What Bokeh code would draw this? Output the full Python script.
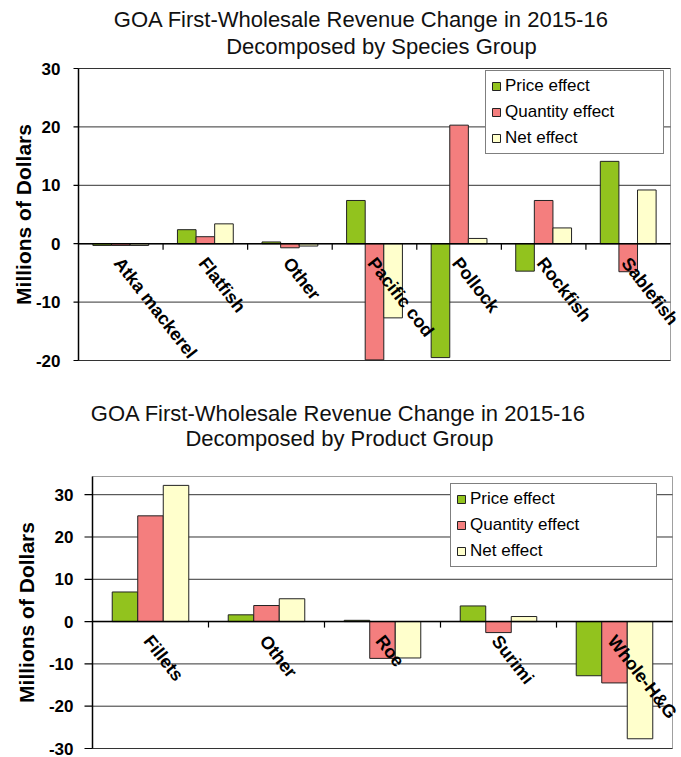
import numpy as np
from bokeh.plotting import figure
from bokeh.models import (ColumnDataSource, LabelSet, Label, Legend, LegendItem)
from bokeh.core.properties import value
from bokeh.embed import file_html
from bokeh.resources import INLINE

# ---------------- data ----------------
species = ["Atka mackerel", "Flatfish", "Other", "Pacific cod", "Pollock", "Rockfish", "Sablefish"]
species_price = [-0.3, 2.4, 0.3, 7.4, -19.5, -4.7, 14.1]
species_quantity = [-0.3, 1.2, -0.7, -19.9, 20.3, 7.4, -4.8]
species_net = [-0.3, 3.4, -0.4, -12.7, 0.9, 2.7, 9.2]

products = ["Fillets", "Other", "Roe", "Surimi", "Whole-H&G"]
product_price = [7.0, 1.6, 0.3, 3.7, -12.8]
product_quantity = [25.0, 3.8, -8.7, -2.6, -14.5]
product_net = [32.2, 5.4, -8.6, 1.2, -27.7]

series_names = ["Price effect", "Quantity effect", "Net effect"]
species_ticks = [-20, -10, 0, 10, 20, 30]
product_ticks = [-30, -20, -10, 0, 10, 20, 30]

title_line1 = "GOA First-Wholesale Revenue Change in 2015-16"
species_line2 = "Decomposed by Species Group"
product_line2 = "Decomposed by Product Group"
y_label = "Millions of Dollars"

colors = ["#92C31E", "#F47E7E", "#FFFFCC"]
FONT = "Liberation Sans"
W = 681


def make_chart(cats, series, line2, yr, ticks, H, box, title_pos, leg_loc, leg_lw,
               tick_out, lab_gap, axl_x):
    n = len(cats)
    L, R, T, B = box                      # plot-area edges in canvas pixels
    y0, y1 = yr
    sx = (R - L) / n
    sy = (B - T) / (y1 - y0)
    x_range = (-L / sx, n + (W - R) / sx)
    y_range = (y0 - (H - B) / sy, y1 + T / sy)

    p = figure(width=W, height=H, x_range=x_range, y_range=y_range,
               output_backend="svg", toolbar_location=None,
               x_axis_location=None, y_axis_location=None,
               min_border=0, outline_line_color=None,
               background_fill_color="white", border_fill_color="white")
    p.title.visible = False
    p.xgrid.visible = False
    p.ygrid.visible = False

    def to_data(px, py):
        return (px - L) / sx, y1 - (py - T) / sy

    # titles
    for text, (px, py) in zip([title_line1, line2], title_pos):
        tx, ty = to_data(px, py)
        p.add_layout(Label(x=tx, y=ty, text=text, text_align="center",
                           text_baseline="middle", text_font=FONT,
                           text_font_size="22px", text_color="#111111"))

    # plot-area outline
    p.quad(left=[0], right=[n], bottom=[y0], top=[y1], fill_color=None,
           line_color="#A0A0A0", line_width=1)

    # horizontal gridlines
    tk = np.array(ticks, dtype=float)
    p.segment(x0=np.zeros(len(tk)), y0=tk, x1=np.full(len(tk), n), y1=tk,
              line_color="#333333", line_width=1)

    # bars
    bw = 0.22
    centers = np.arange(n) + 0.5
    items = []
    for k, (name, vals) in enumerate(zip(series_names, series)):
        src = ColumnDataSource(dict(x=centers + (k - 1) * bw, top=vals))
        r = p.vbar(x="x", top="top", bottom=0, width=bw, source=src,
                   fill_color=colors[k], line_color="#222222", line_width=1)
        items.append(LegendItem(label=name, renderers=[r]))

    # zero line and category boundary ticks
    p.segment(x0=[0], y0=[0], x1=[n], y1=[0], line_color="black", line_width=1.5)
    bounds = np.arange(1, n)
    p.segment(x0=bounds, y0=np.zeros(n - 1), x1=bounds,
              y1=np.full(n - 1, -6 / sy), line_color="black", line_width=1.2)

    # y axis: line, ticks, labels, title
    p.segment(x0=[0], y0=[y0], x1=[0], y1=[y1], line_color="black", line_width=1.5)
    p.segment(x0=np.zeros(len(tk)), y0=tk, x1=np.full(len(tk), -tick_out / sx), y1=tk,
              line_color="black", line_width=1.2)
    tl_src = ColumnDataSource(dict(x=np.zeros(len(tk)), y=tk, text=[str(t) for t in ticks]))
    p.add_layout(LabelSet(x="x", y="y", text="text", source=tl_src, x_offset=-lab_gap,
                          text_align="right", text_baseline="middle",
                          text_font=value(FONT), text_font_size="17px",
                          text_font_style="bold", text_color="black"))
    ymid = (y0 + y1) / 2
    p.add_layout(Label(x=0, y=ymid, x_offset=axl_x,
                       text=y_label, angle=90, angle_units="deg", text_align="center",
                       text_baseline="middle", text_font=FONT, text_font_size="21px",
                       text_font_style="bold", text_color="black"))

    # category labels
    lab_src = ColumnDataSource(dict(x=centers, y=np.zeros(n), text=cats))
    p.add_layout(LabelSet(x="x", y="y", text="text", source=lab_src, angle=-52,
                          angle_units="deg", text_align="left", text_baseline="middle",
                          x_offset=-3, y_offset=-16, text_font=value(FONT),
                          text_font_size="18px", text_font_style="bold",
                          text_color="black"))

    leg = Legend(items=items, location=leg_loc, orientation="vertical",
                 label_text_font=FONT, label_text_font_size="17px",
                 label_text_color="black", glyph_width=10, glyph_height=10,
                 label_height=16, spacing=6, padding=5, label_standoff=4,
                 label_width=leg_lw, border_line_color="black", border_line_width=1.5,
                 background_fill_color="white", background_fill_alpha=1.0,
                 margin=0)
    p.add_layout(leg, "center")
    return p


top_chart = make_chart(species, [species_price, species_quantity, species_net],
                       species_line2, (-20, 30), species_ticks, H=383,
                       box=(78, 670, 68, 360), title_pos=[(361, 19), (381, 46)],
                       leg_loc=(485, 229), leg_lw=153, tick_out=5, lab_gap=18,
                       axl_x=-55)

bottom_chart = make_chart(products, [product_price, product_quantity, product_net],
                          product_line2, (-30, 34.3), product_ticks, H=374,
                          box=(92, 672, 93, 365), title_pos=[(338, 30), (339, 55)],
                          leg_loc=(450, 190), leg_lw=181, tick_out=8, lab_gap=19,
                          axl_x=-66)

open("out.html", "w").write(file_html([top_chart, bottom_chart], INLINE))
